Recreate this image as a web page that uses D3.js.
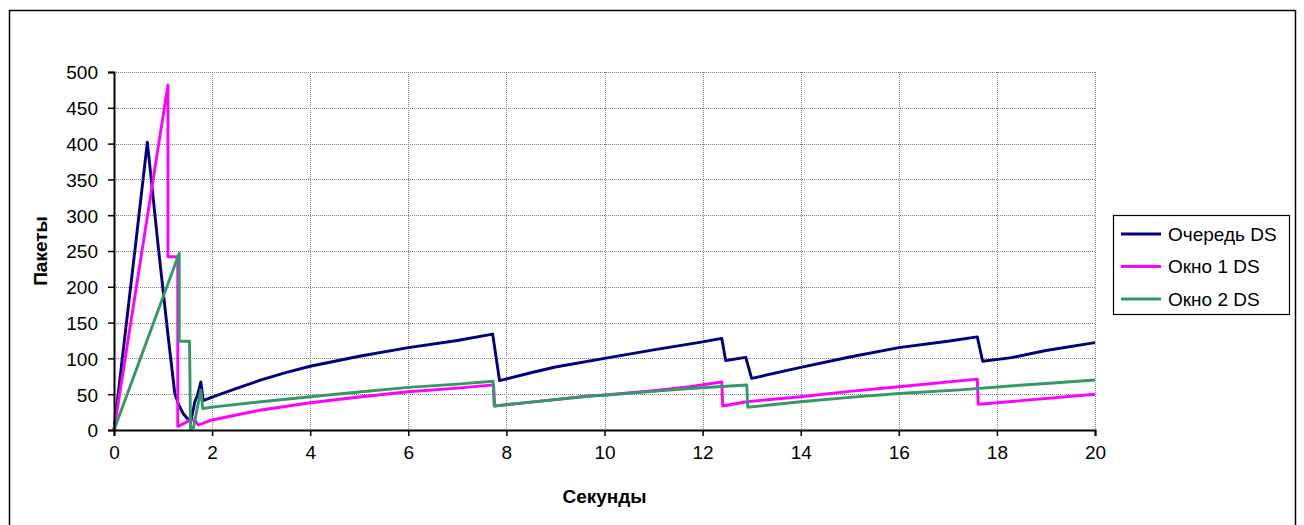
<!DOCTYPE html>
<html>
<head>
<meta charset="utf-8">
<script src="https://cdn.jsdelivr.net/npm/d3@7"></script>
<style>
  html, body { margin: 0; padding: 0; background: #fff; }
  svg { display: block; font-family: Arial, "Liberation Sans", sans-serif; }
</style>
</head>
<body>
<svg id="chart" width="1304" height="525"></svg>
<script>
// Queue length and window sizes of two DS flows over time (packets vs seconds)
const xTicks = [0, 2, 4, 6, 8, 10, 12, 14, 16, 18, 20];
const yTicks = [0, 50, 100, 150, 200, 250, 300, 350, 400, 450, 500];

const queueT = [0, 0.2, 0.45, 0.68, 0.91, 1.1, 1.24, 1.32, 1.41, 1.52, 1.56, 1.65, 1.7, 1.77, 1.82,
  2.0, 2.5, 3.0, 3.5, 4.0, 5.0, 6.0, 7.0, 7.72, 7.86, 8.5, 9.0, 10.0, 11.0, 12.0, 12.39,
  12.47, 12.88, 13.0, 14.0, 15.0, 16.0, 17.0, 17.6, 17.71, 18.3, 19.0, 20.0];
const queueV = [0, 118, 265, 402, 251, 133, 51, 35, 23, 14, 10, 40, 48, 67, 41,
  46, 58, 70, 80, 89, 103, 115, 125, 134, 69, 80, 88, 100, 112, 123, 128,
  97, 101.5, 72, 87.5, 102, 115, 124, 130, 96, 101, 111, 122];

const win1T = [0, 1.1, 1.1, 1.3, 1.3, 1.45, 1.55, 1.65, 1.72, 2.0, 3.0, 4.0, 5.0, 6.0, 7.0, 7.74,
  7.76, 8.5, 9.7, 10.0, 11.0, 11.74, 12.39, 12.41, 12.9, 14.0, 15.0, 16.0, 17.6, 17.62, 18.5, 20.0];
const win1V = [0, 482, 242, 242, 5, 10, 14, 14, 7, 14, 28, 38, 46, 53.5, 58.5, 63,
  33.5, 39, 47.5, 49, 55, 60.5, 67, 33.5, 39.5, 46.5, 54, 60.5, 71, 36, 41, 50];

const win2T = [0, 1.33, 1.33, 1.54, 1.56, 1.62, 1.77, 1.81, 2.0, 3.0, 4.0, 5.0, 6.0, 7.0, 7.73,
  7.75, 8.5, 9.7, 10.0, 11.0, 11.74, 12.9, 12.92, 14.0, 15.0, 16.0, 17.25, 18.27, 19.0, 20.0];
const win2V = [0, 247, 124, 124, 2, 3, 56, 30, 32, 39.5, 46.5, 53, 59.6, 64, 68,
  33.5, 39, 47.5, 48.5, 54, 58, 62.8, 31.7, 39.5, 45.5, 51, 56, 61.5, 65, 69.8];

const seriesNames = ["Очередь DS", "Окно 1 DS", "Окно 2 DS"];
const seriesColors = ["#000080", "#FF00FF", "#339966"];

const series = [
  { name: seriesNames[0], color: seriesColors[0], t: queueT, v: queueV },
  { name: seriesNames[1], color: seriesColors[1], t: win1T, v: win1V },
  { name: seriesNames[2], color: seriesColors[2], t: win2T, v: win2V }
];

const svg = d3.select("#chart");
const plot = { left: 114, top: 72, right: 1095, bottom: 430 };

// outer frame
svg.append("rect")
  .attr("x", 9.5).attr("y", 10.5)
  .attr("width", 1286).attr("height", 530)
  .attr("fill", "#fff").attr("stroke", "#000").attr("stroke-width", 1.5);

const x = d3.scaleLinear().domain([0, 20]).range([plot.left, plot.right]);
const y = d3.scaleLinear().domain([0, 500]).range([plot.bottom, plot.top]);

// grid
const grid = svg.append("g").attr("stroke", "#808080").attr("stroke-width", 1)
  .attr("stroke-dasharray", "1,1");
grid.selectAll("line.h").data(yTicks.filter(d => d > 0)).join("line")
  .attr("x1", plot.left).attr("x2", plot.right)
  .attr("y1", d => Math.round(y(d)) + 0.5).attr("y2", d => Math.round(y(d)) + 0.5);
grid.selectAll("line.v").data(xTicks.filter(d => d > 0)).join("line")
  .attr("y1", plot.top).attr("y2", plot.bottom)
  .attr("x1", d => Math.round(x(d)) + 0.5).attr("x2", d => Math.round(x(d)) + 0.5);

// series lines
const line = d3.line().x(d => x(d[0])).y(d => y(d[1]));
series.forEach(s => {
  const pts = s.t.map((t, i) => [t, s.v[i]]);
  svg.append("path").datum(pts)
    .attr("d", line)
    .attr("fill", "none")
    .attr("stroke", s.color)
    .attr("stroke-width", 2.9)
    .attr("stroke-linejoin", "round");
});

// axes
const xAxis = svg.append("g").attr("transform", `translate(0,${plot.bottom})`)
  .call(d3.axisBottom(x).tickValues(xTicks).tickSize(6).tickPadding(10).tickFormat(d3.format("d")));
const yAxis = svg.append("g").attr("transform", `translate(${plot.left},0)`)
  .call(d3.axisLeft(y).tickValues(yTicks).tickSize(6).tickPadding(10).tickFormat(d3.format("d")));
[xAxis, yAxis].forEach(a => {
  a.select(".domain").attr("stroke", "#000").attr("stroke-width", 2);
  a.selectAll(".tick line").attr("stroke", "#000").attr("stroke-width", 1.5);
  a.selectAll(".tick text").attr("fill", "#000").attr("font-size", 19)
    .attr("font-family", "Arial, 'Liberation Sans', sans-serif");
});
yAxis.selectAll(".tick text").attr("dy", "0.36em");

// axis titles
svg.append("text").attr("x", x(10)).attr("y", 503)
  .attr("text-anchor", "middle").attr("font-size", 19).attr("font-weight", "bold")
  .text("Секунды");
svg.append("text").attr("transform", `translate(47,${y(250)}) rotate(-90)`)
  .attr("text-anchor", "middle").attr("font-size", 19).attr("font-weight", "bold")
  .text("Пакеты");

// legend
const lg = svg.append("g").attr("transform", "translate(1113,215)");
lg.append("rect").attr("x", 0.5).attr("y", 0.5).attr("width", 176).attr("height", 99)
  .attr("fill", "#fff").attr("stroke", "#000").attr("stroke-width", 1.2);
series.forEach((s, i) => {
  const cy = 19 + i * 32.5;
  lg.append("line").attr("x1", 8).attr("x2", 48).attr("y1", cy).attr("y2", cy)
    .attr("stroke", s.color).attr("stroke-width", 2.9);
  lg.append("text").attr("x", 55).attr("y", cy).attr("dy", "0.36em")
    .attr("font-size", 19).attr("fill", "#000").text(s.name);
});
</script>
</body>
</html>
